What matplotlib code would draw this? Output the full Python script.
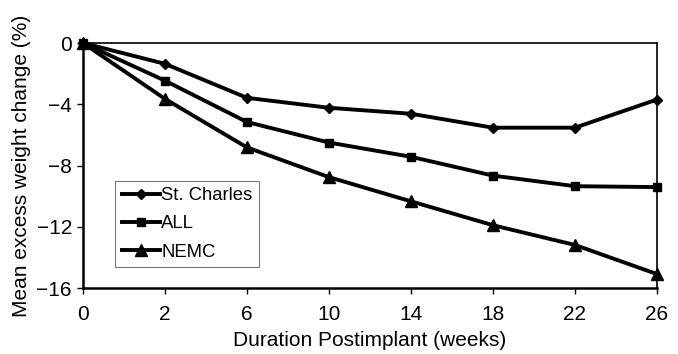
import matplotlib
matplotlib.use("Agg")
import matplotlib.pyplot as plt
import numpy as np

plt.rcParams['font.family'] = ['Liberation Sans', 'DejaVu Sans']

weeks = ["0", "2", "6", "10", "14", "18", "22", "26"]
st_charles = [0, -1.36, -3.58, -4.23, -4.62, -5.53, -5.53, -3.69]
all_sites = [0, -2.46, -5.16, -6.5, -7.43, -8.66, -9.35, -9.41]
nemc = [0, -3.65, -6.82, -8.76, -10.34, -11.9, -13.19, -15.09]

fig = plt.figure(figsize=(6.78, 3.54), dpi=100)
ax = fig.add_axes([0.1224, 0.1864, 0.969 - 0.1224, 0.8785 - 0.1864])

x = np.arange(len(weeks))
ax.plot(x, st_charles, color='black', lw=2.8, marker='D', ms=5, label='St. Charles', clip_on=False)
ax.plot(x, all_sites, color='black', lw=2.8, marker='s', ms=6, label='ALL', clip_on=False)
ax.plot(x, nemc, color='black', lw=2.8, marker='^', ms=8, label='NEMC', clip_on=False)

ax.set_xlim(0, len(weeks) - 1)
ax.set_ylim(-16, 0)
ax.set_xticks(x)
ax.set_xticklabels(weeks)
ax.set_yticks([0, -4, -8, -12, -16])
ax.set_yticklabels(["0", "\u22124", "\u22128", "\u221212", "\u221216"])
ax.tick_params(direction='out', length=4, width=1, labelsize=15, colors='black')
ax.tick_params(axis='x', pad=8)
ax.tick_params(axis='y', pad=4)
for s in ax.spines.values():
    s.set_linewidth(1.2)
ax.spines['bottom'].set_linewidth(1.8)
ax.spines['left'].set_linewidth(1.8)

ax.set_xlabel("Duration Postimplant (weeks)", fontsize=15, labelpad=5)
ax.set_ylabel("Mean excess weight change (%)", fontsize=15, labelpad=4)

leg = ax.legend(loc='upper left', bbox_to_anchor=(0.056, 0.437), fontsize=13.3,
                frameon=True, fancybox=False, edgecolor='#555555', handlelength=2.1,
                handletextpad=0.05, borderpad=0.35, labelspacing=0.6, borderaxespad=0)
leg.get_frame().set_linewidth(0.8)

fig.savefig("out.png", dpi=100)
